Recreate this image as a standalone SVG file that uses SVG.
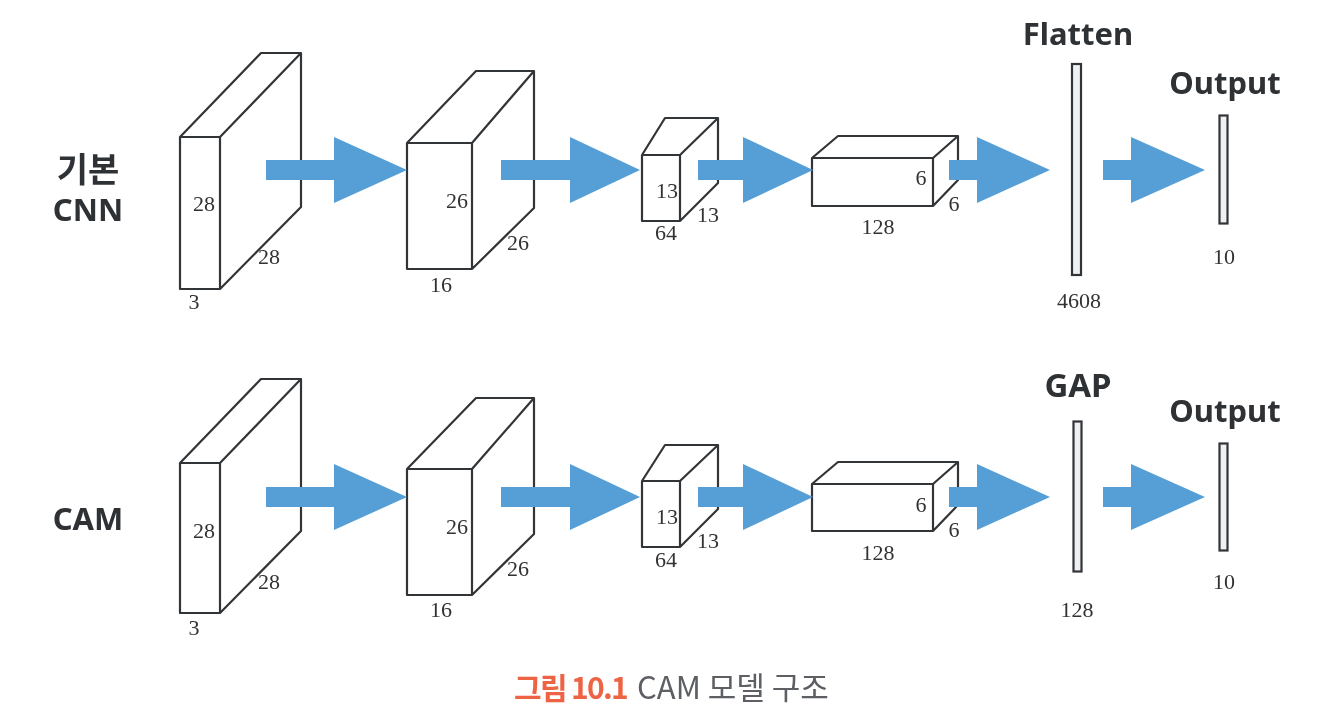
<svg xmlns="http://www.w3.org/2000/svg" width="1324" height="726" viewBox="0 0 1324 726">
<style>
.b{fill:none;stroke:#333538;stroke-width:2.200;stroke-linejoin:round}
.t{fill:#eef0f2;stroke:#333538;stroke-width:2.200}
.a{fill:#559fd6}
.n{font-family:"Liberation Serif",serif;font-size:22px;fill:#333;text-anchor:middle}
.h{font-family:"Noto Sans","Noto Sans CJK KR",sans-serif;font-weight:700;font-size:31px;fill:#2e3035;text-anchor:middle}
.c{font-family:"Noto Sans CJK KR",sans-serif;font-size:31px;text-anchor:start}
</style>
<defs>
<filter id="s" x="-5%" y="-5%" width="110%" height="110%"><feGaussianBlur stdDeviation="0.6"/></filter>
</defs>
<rect width="1324" height="726" fill="#fff"/>
<g filter="url(#s)">
<g id="row-label-cnn"><text class="h" x="88" y="182" style="font-size:34px">기본</text><text class="h" x="88" y="221">CNN</text></g>
<g id="row-label-cam"><text class="h" x="88" y="530">CAM</text></g>

<g id="box1-top">
<path class="b" d="M180 137H220V289H180ZM180 137L261 53H301L220 137M301 53V207L220 289"/>
<text class="n" x="204" y="211">28</text><text class="n" x="269" y="264">28</text><text class="n" x="194" y="309">3</text>
</g>
<g id="box2-top">
<path class="b" d="M407 143H472V269H407ZM407 143L476 71H534L472 143M534 71V208L472 269"/>
<text class="n" x="457" y="208">26</text><text class="n" x="518" y="250">26</text><text class="n" x="441" y="292">16</text>
</g>
<g id="box3-top">
<path class="b" d="M642 155H680V221H642ZM642 155L665 118H718L680 155M718 118V183L680 221"/>
<text class="n" x="667" y="198">13</text><text class="n" x="708" y="222">13</text><text class="n" x="666" y="240">64</text>
</g>
<g id="box4-top">
<path class="b" d="M812 158H933V206H812ZM812 158L838 136H958L933 158M958 136V180L933 206"/>
<text class="n" x="921" y="185">6</text><text class="n" x="954" y="211">6</text><text class="n" x="878" y="234">128</text>
</g>
<g id="flatten">
<text class="h" x="1078" y="45">Flatten</text>
<rect class="t" x="1072" y="64" width="9" height="211"/>
<text class="n" x="1079" y="308">4608</text>
</g>
<g id="output-top">
<text class="h" x="1225" y="94">Output</text>
<rect class="t" x="1219.500" y="115.500" width="8" height="108"/>
<text class="n" x="1224" y="264">10</text>
</g>

<g id="box1-bottom">
<path class="b" d="M180 463H220V613H180ZM180 463L261 379H301L220 463M301 379V531L220 613"/>
<text class="n" x="204" y="538">28</text><text class="n" x="269" y="589">28</text><text class="n" x="194" y="635">3</text>
</g>
<g id="box2-bottom">
<path class="b" d="M407 469H472V595H407ZM407 469L476 398H534L472 469M534 398V534L472 595"/>
<text class="n" x="457" y="534">26</text><text class="n" x="518" y="576">26</text><text class="n" x="441" y="617">16</text>
</g>
<g id="box3-bottom">
<path class="b" d="M642 481H680V547H642ZM642 481L665 445H718L680 481M718 445V509L680 547"/>
<text class="n" x="667" y="524">13</text><text class="n" x="708" y="548">13</text><text class="n" x="666" y="567">64</text>
</g>
<g id="box4-bottom">
<path class="b" d="M812 484H933V531H812ZM812 484L838 462H958L933 484M958 462V505L933 531"/>
<text class="n" x="921" y="512">6</text><text class="n" x="954" y="537">6</text><text class="n" x="878" y="560">128</text>
</g>
<g id="gap">
<text class="h" x="1078" y="397" style="font-size:33px">GAP</text>
<rect class="t" x="1073.500" y="421.500" width="8" height="150"/>
<text class="n" x="1077" y="617">128</text>
</g>
<g id="output-bottom">
<text class="h" x="1225" y="422">Output</text>
<rect class="t" x="1219.500" y="443.500" width="8" height="107"/>
<text class="n" x="1224" y="589">10</text>
</g>

<g id="connectors">
<path class="a" d="M266 160H334V137L407 170L334 203V180H266Z"/>
<path class="a" d="M501 160H570V137L640 170L570 203V180H501Z"/>
<path class="a" d="M698 160H743V137L813 170L743 203V180H698Z"/>
<path class="a" d="M949 160H977V137L1050 170L977 203V180H949Z"/>
<path class="a" d="M1103 160H1131V137L1205 170L1131 203V180H1103Z"/>
<path class="a" d="M266 487H334V464L407 497L334 530V507H266Z"/>
<path class="a" d="M501 487H570V464L640 497L570 530V507H501Z"/>
<path class="a" d="M698 487H743V464L813 497L743 530V507H698Z"/>
<path class="a" d="M949 487H977V464L1050 497L977 530V507H949Z"/>
<path class="a" d="M1103 487H1131V464L1205 497L1131 530V507H1103Z"/>
</g>

<g id="caption">
<text class="c" x="514" y="699" font-weight="700" fill="#ef6444" letter-spacing="-1.700" style="font-size:30px">그림 10.1</text>
<text class="c" x="637" y="699" fill="#5c5e63">CAM 모델 구조</text>
</g>
</g>
</svg>
